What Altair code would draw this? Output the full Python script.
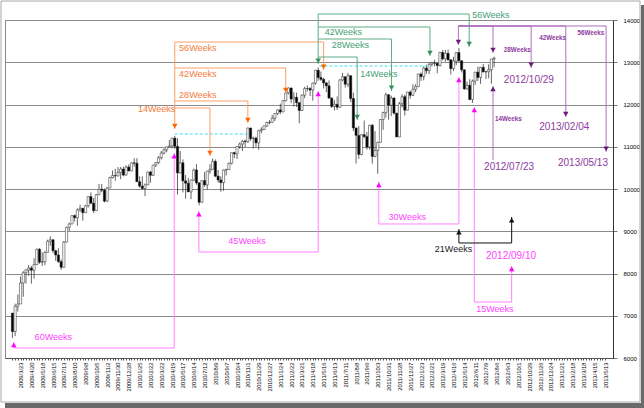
import json
import altair as alt
import pandas as pd

# ---------------- weekly candles, first week = 2009/3/2 (week index 0) ----------------
opens = [7063, 6627, 7224, 7278, 7776, 8018, 8083, 8131, 8076, 8212,
         8575, 8269, 8277, 8500, 8763, 8799, 8540, 8438, 8281, 8147,
         8744, 9093, 9172, 9370, 9321, 9506, 9544, 9441, 9605, 9820,
         9665, 9488, 9865, 9996, 9972, 9713, 10023, 10270, 10318, 10310,
         10389, 10472, 10329, 10520, 10428, 10618, 10610, 10173, 10067, 10012,
         10099, 10402, 10325, 10566, 10625, 10742, 10850, 10927, 10997, 11019,
         11204, 11009, 10380, 10620, 10193, 10137, 9932, 10211, 10451, 10144,
         9686, 10198, 10098, 10425, 10466, 10654, 10303, 10214, 10151, 10448,
         10463, 10608, 10860, 10830, 11006, 11063, 11133, 11118, 11444, 11193,
         11204, 11092, 11382, 11410, 11492, 11573, 11578, 11675, 11787, 11872,
         11824, 12092, 12273, 12391, 12130, 12170, 12044, 11859, 12221, 12377,
         12380, 12342, 12506, 12811, 12639, 12596, 12512, 12442, 12151, 11952,
         12004, 11935, 12583, 12657, 12480, 12681, 12143, 11445, 11269, 10818,
         11285, 11240, 10992, 11509, 10771, 10913, 11103, 11644, 11809, 12231,
         11983, 12154, 11796, 11232, 12019, 12184, 11866, 12294, 12218, 12360,
         12422, 12720, 12660, 12862, 12801, 12950, 12983, 12978, 12922, 13233,
         13081, 13212, 13060, 12850, 13029, 13228, 13038, 12821, 12369, 12455,
         12119, 12554, 12767, 12641, 12880, 12772, 12777, 12823, 13076]
closes = [6627, 7224, 7278, 7776, 8018, 8083, 8131, 8076, 8212, 8575,
          8269, 8277, 8500, 8763, 8799, 8540, 8438, 8281, 8147, 8744,
          9093, 9172, 9370, 9321, 9506, 9544, 9441, 9605, 9820, 9665,
          9488, 9865, 9996, 9972, 9713, 10023, 10270, 10318, 10310, 10389,
          10472, 10329, 10520, 10428, 10618, 10610, 10173, 10067, 10012, 10099,
          10402, 10325, 10566, 10625, 10742, 10850, 10927, 10997, 11019, 11204,
          11009, 10380, 10620, 10193, 10137, 9932, 10211, 10451, 10144, 9686,
          10198, 10098, 10425, 10466, 10654, 10303, 10214, 10151, 10448, 10463,
          10608, 10860, 10830, 11006, 11063, 11133, 11118, 11444, 11193, 11204,
          11092, 11382, 11410, 11492, 11573, 11578, 11675, 11787, 11872, 11824,
          12092, 12273, 12391, 12130, 12170, 12044, 11859, 12221, 12377, 12380,
          12342, 12506, 12811, 12639, 12596, 12512, 12442, 12151, 11952, 12004,
          11935, 12583, 12657, 12480, 12681, 12143, 11445, 11269, 10818, 11285,
          11240, 10992, 11509, 10771, 10913, 11103, 11644, 11809, 12231, 11983,
          12154, 11796, 11232, 12019, 12184, 11866, 12294, 12218, 12360, 12422,
          12720, 12660, 12862, 12801, 12950, 12983, 12978, 12922, 13233, 13081,
          13212, 13060, 12850, 13029, 13228, 13038, 12821, 12369, 12455, 12119,
          12554, 12767, 12641, 12880, 12772, 12777, 12823, 13076, 13096]
highs = [7063, 7286, 7505, 7930, 8060, 8100, 8200, 8180, 8360, 8590,
         8600, 8500, 8530, 8800, 8880, 8800, 8560, 8600, 8330, 8770,
         9110, 9200, 9370, 9400, 9540, 9630, 9550, 9620, 9830, 9920,
         9790, 9880, 10120, 10120, 10010, 10050, 10290, 10440, 10480, 10520,
         10520, 10530, 10560, 10580, 10630, 10730, 10730, 10300, 10300, 10130,
         10410, 10430, 10570, 10640, 10780, 10900, 10960, 11000, 11160, 11210,
         11258, 11200, 10900, 10700, 10330, 10260, 10220, 10480, 10590, 10170,
         10200, 10400, 10430, 10590, 10720, 10700, 10450, 10300, 10460, 10480,
         10630, 10860, 10880, 11010, 11100, 11160, 11170, 11450, 11450, 11240,
         11240, 11400, 11460, 11500, 11590, 11630, 11750, 11790, 11880, 12020,
         12100, 12290, 12400, 12400, 12290, 12280, 12050, 12240, 12420, 12450,
         12410, 12520, 12820, 12876, 12780, 12630, 12520, 12570, 12170, 12100,
         12190, 12590, 12750, 12660, 12750, 12700, 12280, 11450, 11490, 11300,
         11620, 11350, 11520, 11540, 11370, 11120, 11650, 11830, 12280, 12240,
         12210, 12170, 11800, 12060, 12240, 12230, 12300, 12330, 12480, 12480,
         12730, 12760, 12900, 12940, 12990, 13010, 13060, 12980, 13240, 13290,
         13290, 13300, 13060, 13130, 13240, 13338, 13040, 12830, 12540, 12600,
         12590, 12770, 12900, 12890, 12960, 12800, 12950, 13080, 13130]
lows = [6470, 6517, 7100, 7278, 7450, 7760, 7950, 7760, 7880, 8200,
        8230, 8180, 8200, 8500, 8660, 8480, 8300, 8250, 8087, 8140,
        8740, 9010, 9170, 9230, 9130, 9460, 9250, 9440, 9560, 9640,
        9430, 9480, 9860, 9930, 9680, 9690, 10020, 10250, 10200, 10300,
        10230, 10300, 10320, 10420, 10420, 10530, 10170, 10030, 9980, 9830,
        10090, 10150, 10310, 10520, 10590, 10700, 10820, 10870, 10990, 10960,
        10950, 9870, 10370, 9920, 9770, 9930, 9760, 10190, 10100, 9614,
        9680, 10050, 9990, 10360, 10460, 10280, 10150, 9936, 9960, 10320,
        10460, 10580, 10730, 10710, 10950, 10900, 10990, 11090, 11140, 10960,
        10990, 10930, 11320, 11400, 11470, 11530, 11570, 11610, 11750, 11770,
        11820, 12070, 12240, 12030, 11950, 11940, 11555, 11850, 12150, 12310,
        12200, 12090, 12470, 12560, 12560, 12380, 12290, 12140, 11920, 11860,
        11870, 11930, 12550, 12400, 12410, 12060, 11370, 10604, 10710, 10800,
        11200, 10930, 10930, 10600, 10750, 10362, 11100, 11400, 11690, 11640,
        11730, 11760, 11230, 11230, 11930, 11740, 11860, 12140, 12200, 12290,
        12420, 12560, 12570, 12730, 12720, 12900, 12900, 12740, 12900, 13040,
        13010, 13030, 12710, 12790, 12930, 13000, 12760, 12350, 12350, 12100,
        12035, 12460, 12560, 12490, 12760, 12600, 12620, 12490, 12880]

# x-axis labels (every 4 weeks, first one at week 3)
x_labels = ["2009/3/23", "2009/4/20", "2009/5/18", "2009/6/15", "2009/7/13", "2009/8/10",
            "2009/9/8", "2009/10/5", "2009/11/2", "2009/11/30", "2009/12/28",
            "2010/1/25", "2010/2/22", "2010/3/22", "2010/4/19", "2010/5/17", "2010/6/14",
            "2010/7/12", "2010/8/9", "2010/9/7", "2010/10/4", "2010/11/1", "2010/11/29",
            "2010/12/27", "2011/1/24", "2011/2/22", "2011/3/21", "2011/4/18", "2011/5/16",
            "2011/6/13", "2011/7/11", "2011/8/8", "2011/9/6", "2011/10/3", "2011/10/31",
            "2011/11/28", "2011/12/27", "2012/1/23", "2012/2/21", "2012/3/19", "2012/4/16",
            "2012/5/14", "2012/6/11", "2012/7/9", "2012/8/6", "2012/9/3", "2012/10/1",
            "2012/10/29", "2012/11/26", "2012/12/24", "2013/1/21", "2013/2/18", "2013/3/18",
            "2013/4/15", "2013/5/13"]
y_ticks = [6000, 7000, 8000, 9000, 10000, 11000, 12000, 13000, 14000]

# ---------------- annotations (week index, price) ----------------
# orange fan from 2010 top
orange_peak, orange_peak_tip = 60, 11420
orange_ends = [115, 101, 87, 73]
orange_levels = [13479, 12864, 12083, 11917]
orange_tips = [12817, 12272, 11562, 10781]
orange_text = ["56Weeks", "42Weeks", "28Weeks", "14Weeks"]
orange_text_week = [61.6, 61.6, 61.6, 46.4]
orange_text_value = [13337, 12722, 12225, 11894]

# green fan from 2011 top
green_peak, green_peak_tip = 113, 12959
green_ends = [168.8, 154.3, 140.1, 127.4]
green_levels = [14142, 13834, 13550, 13124]
green_tips = [13361, 13148, 12320, 11633]
green_text = ["56Weeks", "42Weeks", "28Weeks", "14Weeks"]
green_text_week = [169.9, 115.4, 118.0, 128.5]
green_text_value = [14118, 13716, 13408, 12722]

# purple fan from 2012 top
purple_peak, purple_peak_tip = 164.8, 13408
purple_ends = [177.6, 191.7, 204.5, 219.4]
purple_levels = [13858, 13858, 13858, 13858]
purple_tips = [13219, 12864, 11704, 10876]
purple_small_text = ["14Weeks", "28Weeks", "42Weeks", "56Weeks"]
purple_small_week = [178.3, 181.6, 194.7, 208.8]
purple_small_value = [11657, 13290, 13574, 13692]
purple_dates = ["2012/07/23", "2012/10/29", "2013/02/04", "2013/05/13"]
purple_dates_week = [174.3, 181.6, 194.7, 201.6]
purple_dates_value = [10521, 12580, 11467, 10615]
purple_up_week, purple_up_tip, purple_up_base = 177.6, 12438, 10687

# magenta low-to-high brackets
mag_start = [0.5, 68.9, 135.4, 170.7]
mag_start_tip = [6379, 9479, 10166, 11941]
mag_base = [6237, 8509, 9172, 7325]
mag_end = [59.8, 113.0, 165.0, 184.5]
mag_end_tip = [10852, 12320, 12651, 8178]
mag_text = ["60Weeks", "45Weeks", "30Weeks", "15Weeks", "2012/09/10"]
mag_text_week = [8.2, 79.8, 139.0, 171.4, 175.0]
mag_text_value = [6497, 8769, 9337, 7160, 8414]

# black bracket
blk_start, blk_start_tip, blk_base, blk_end, blk_end_tip = 165.0, 9053, 8722, 184.5, 9337
blk_text, blk_text_week, blk_text_value = "21Weeks", 156.1, 8580

# cyan dashed resistance lines
cyan_from = [60, 113.5]
cyan_to = [87, 154]
cyan_level = [11302, 12911]

# ---------------- colours ----------------
C_OR_LINE, C_OR_ARR, C_OR_TXT = "#F9A06A", "#FF6600", "#F27C3C"
C_GR_LINE, C_GR_ARR, C_GR_TXT = "#5AAE86", "#2F8F5F", "#45A077"
C_PU_LINE, C_PU_ARR, C_PU_TXT = "#B070C0", "#6A1B7A", "#8E3A9E"
C_MG_LINE, C_MG_ARR, C_MG_TXT = "#FF80FF", "#FF00FF", "#FF44FF"
C_BK = "#111111"

# ---------------- build tables ----------------
df = pd.DataFrame({"week": list(range(len(closes))), "open": opens, "high": highs,
                   "low": lows, "close": closes})

segs, downs, ups, texts = [], [], [], []


def fan(peak, peak_tip, ends, levels, tips, lc, ac):
    segs.append((peak, max(levels), peak, peak_tip, lc))
    downs.append((peak, peak_tip, ac))
    for e, l, t in zip(ends, levels, tips):
        segs.append((peak, l, e, l, lc))
        segs.append((e, l, e, t, lc))
        downs.append((e, t, ac))


fan(orange_peak, orange_peak_tip, orange_ends, orange_levels, orange_tips, C_OR_LINE, C_OR_ARR)
fan(green_peak, green_peak_tip, green_ends, green_levels, green_tips, C_GR_LINE, C_GR_ARR)
fan(purple_peak, purple_peak_tip, purple_ends, purple_levels, purple_tips, C_PU_LINE, C_PU_ARR)
segs.append((purple_up_week, purple_up_base, purple_up_week, purple_up_tip, C_PU_LINE))
ups.append((purple_up_week, purple_up_tip, C_PU_ARR))


def bracket(s, st, b, e, et, lc, ac):
    segs.append((s, b, s, st, lc))
    segs.append((s, b, e, b, lc))
    segs.append((e, b, e, et, lc))
    ups.append((s, st, ac))
    ups.append((e, et, ac))


for s, st, b, e, et in zip(mag_start, mag_start_tip, mag_base, mag_end, mag_end_tip):
    bracket(s, st, b, e, et, C_MG_LINE, C_MG_ARR)
bracket(blk_start, blk_start_tip, blk_base, blk_end, blk_end_tip, C_BK, C_BK)

for t, w, v in zip(orange_text, orange_text_week, orange_text_value):
    texts.append((w, v, t, C_OR_TXT, 9))
for t, w, v in zip(green_text, green_text_week, green_text_value):
    texts.append((w, v, t, C_GR_TXT, 9))
for t, w, v in zip(purple_dates, purple_dates_week, purple_dates_value):
    texts.append((w, v, t, C_PU_TXT, 10))
for t, w, v in zip(mag_text, mag_text_week, mag_text_value):
    texts.append((w, v, t, C_MG_TXT, 10 if "/" in t else 9))
texts.append((blk_text_week, blk_text_value, blk_text, "#222222", 9))

seg_df = pd.DataFrame(segs, columns=["x1", "y1", "x2", "y2", "color"])
down_df = pd.DataFrame(downs, columns=["week", "value", "color"])
up_df = pd.DataFrame(ups, columns=["week", "value", "color"])
text_df = pd.DataFrame(texts, columns=["week", "value", "text", "color", "size"])
small_df = pd.DataFrame({"week": purple_small_week, "value": purple_small_value,
                         "text": purple_small_text})
cyan_df = pd.DataFrame({"x1": cyan_from, "x2": cyan_to, "y": cyan_level})
one = pd.DataFrame({"k": [0]})

# ---------------- scales / axes ----------------
xs = alt.Scale(domain=[-0.9, 220.1], nice=False, zero=False)
ys = alt.Scale(domain=[6000, 14000], nice=False, zero=False)
label_expr = ("datum.value >= 3 && (datum.value - 3) % 4 == 0 ? "
              + json.dumps(x_labels) + "[(datum.value - 3) / 4] : ''")
x_axis = alt.Axis(values=list(range(0, 220)), labelExpr=label_expr, labelAngle=270,
                  labelFontSize=5.8, labelFont="Liberation Sans", labelColor="#000",
                  tickSize=2, tickColor="#555", domainColor="#555", labelPadding=2,
                  labelOverlap=False, grid=False, title="", labelBound=False)
y_axis = alt.Axis(orient="right", values=y_ticks, format="d", labelFontSize=6,
                  labelFont="Liberation Sans", labelColor="#000", tickSize=4, tickColor="#777",
                  domainColor="#333", labelPadding=6, grid=True, gridColor="#8a8a8a",
                  gridWidth=1, title="", labelOverlap=False)


def X(field):
    return alt.X(field, scale=xs, axis=x_axis)


def Y(field):
    return alt.Y(field, scale=ys, axis=y_axis)


# ---------------- layers ----------------
frame = alt.Chart(one).mark_rect(fillOpacity=0, stroke="#a8a8a8", strokeWidth=1).encode(
    x=alt.value(-4), x2=alt.value(635), y=alt.value(-19), y2=alt.value(382))
shadow_r = alt.Chart(one).mark_rect(fill="#6a6a6a").encode(
    x=alt.value(636), x2=alt.value(639), y=alt.value(-15), y2=alt.value(388))
shadow_b = alt.Chart(one).mark_rect(fill="#6a6a6a").encode(
    x=alt.value(0), x2=alt.value(639), y=alt.value(383), y2=alt.value(388))

wicks = alt.Chart(df).mark_rule(color="#222", strokeWidth=0.7).encode(
    x=X("week:Q"), y=Y("low:Q"), y2="high:Q")
bodies = alt.Chart(df).mark_bar(size=2.2, stroke="#222", strokeWidth=0.5).encode(
    x=X("week:Q"), y=Y("open:Q"), y2="close:Q",
    fill=alt.condition("datum.close >= datum.open", alt.value("white"), alt.value("black")))

dashed = alt.Chart(cyan_df).mark_rule(color="#3FE0F0", strokeWidth=1, strokeDash=[3, 2]).encode(
    x=X("x1:Q"), x2="x2:Q", y=Y("y:Q"))

lines = alt.Chart(seg_df).mark_rule(strokeWidth=1).encode(
    x=X("x1:Q"), x2="x2:Q", y=Y("y1:Q"), y2="y2:Q",
    color=alt.Color("color:N", scale=None))

down_arrows = alt.Chart(down_df).mark_point(shape="triangle-down", filled=True, size=30,
                                            opacity=1, yOffset=-3).encode(
    x=X("week:Q"), y=Y("value:Q"), color=alt.Color("color:N", scale=None))
up_arrows = alt.Chart(up_df).mark_point(shape="triangle-up", filled=True, size=30,
                                        opacity=1, yOffset=3).encode(
    x=X("week:Q"), y=Y("value:Q"), color=alt.Color("color:N", scale=None))

labels = alt.Chart(text_df).mark_text(align="left", baseline="middle", font="Liberation Sans").encode(
    x=X("week:Q"), y=Y("value:Q"), text="text:N",
    color=alt.Color("color:N", scale=None),
    size=alt.Size("size:Q", scale=None))
small_labels = alt.Chart(small_df).mark_text(align="left", baseline="middle", font="Liberation Sans",
                                             fontSize=6.3, fontWeight="bold", color=C_PU_TXT).encode(
    x=X("week:Q"), y=Y("value:Q"), text="text:N")

chart = alt.layer(frame, shadow_r, shadow_b, wicks, bodies, dashed, lines,
                  down_arrows, up_arrows, labels, small_labels).properties(
    width=608, height=338,
    padding={"left": 5, "top": 20, "right": 31, "bottom": 50},
    autosize=alt.AutoSizeParams(type="none"),
    background="white",
).configure_view(stroke="#8a8a8a", strokeWidth=1)

chart.save("out.html", embed_options={"renderer": "svg", "actions": False})
